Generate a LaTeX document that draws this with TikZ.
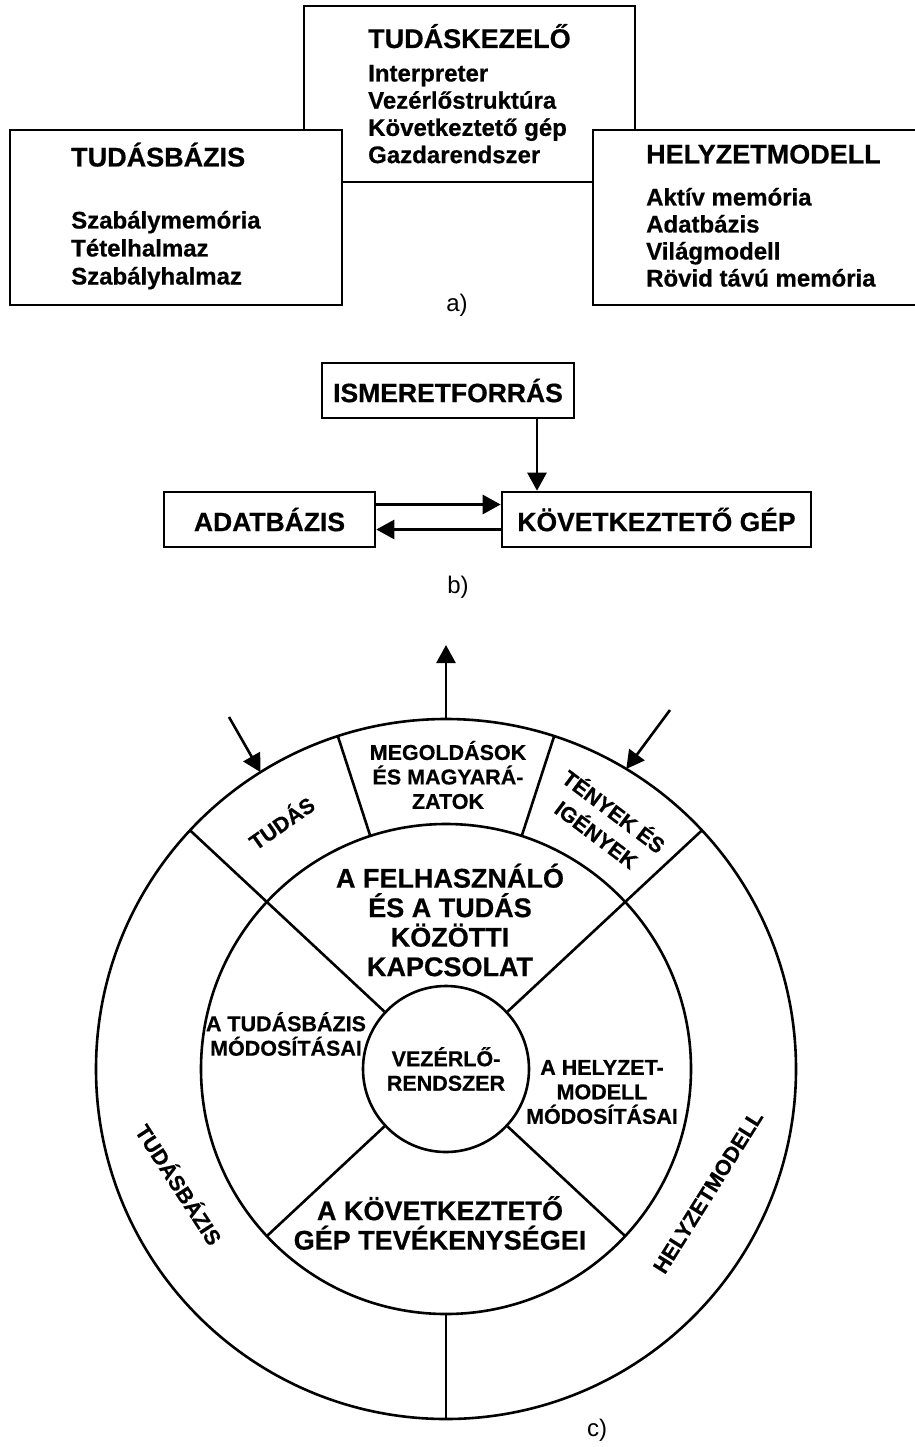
\documentclass[tikz,border=0pt]{standalone}
\usepackage{fontspec}
\setmainfont[BoldFeatures={FakeBold=0.6}]{Liberation Sans}
\usetikzlibrary{arrows.meta,calc}

\tikzset{
  kbox/.style={draw, line width=2.6pt, fill=white},
  ktitle/.style={font=\bfseries\fontsize{27}{30}\selectfont, anchor=base west, inner sep=0pt},
  kitem/.style={font=\bfseries\fontsize{24}{27}\selectfont, anchor=base west, inner sep=0pt},
  bbox/.style={draw, line width=2.6pt, minimum height=55pt, inner sep=0pt, font=\bfseries\fontsize{26.5}{30}\selectfont},
  lbl/.style={font=\fontsize{24}{28}\selectfont, inner sep=0pt},
  arr/.style={line width=2.6pt, -{Triangle[length=18pt,width=19pt]}},
  ringline/.style={line width=2.6pt},
  smtxt/.style={font=\bfseries\fontsize{21.5}{24.5}\selectfont, align=center, inner sep=0pt},
  bgtxt/.style={font=\bfseries\fontsize{27}{29.5}\selectfont, align=center, inner sep=0pt},
}

\begin{document}
\begin{tikzpicture}[x=1pt,y=1pt]
  \useasboundingbox (0,0) rectangle (914,-1447);

  % a) harom doboz
  \draw[kbox] (304,-6) rectangle (635,-182);
  \draw[kbox] (10,-130) rectangle (342,-305);
  \draw[kbox] (593,-130) rectangle (935,-305);
  \node[ktitle] (kez) at (368,-48) {TUDÁSKEZELŐ};
  \foreach \t [count=\i] in {Interpreter, Vezérlőstruktúra, Következtető gép, Gazdarendszer}
    \node[kitem] (kez\i) at (368,-54.3-27.2*\i) {\t};
  \node[ktitle] (tb) at (71,-166.5) {TUDÁSBÁZIS};
  \foreach \t [count=\i] in {Szabálymemória, Tételhalmaz, Szabályhalmaz}
    \node[kitem] (tb\i) at (71,-200.5-28*\i) {\t};
  \node[ktitle] (hm) at (646,-163.5) {HELYZETMODELL};
  \foreach \t [count=\i] in {Aktív memória, Adatbázis, Világmodell, Rövid távú memória}
    \node[kitem] (hm\i) at (646,-178.5-27*\i) {\t};
  \node[lbl] (a) at (457,-305) {a)};

  % b) ismeretforras
  \node[bbox, minimum width=252pt] (isf) at (448,-390.5) {ISMERETFORRÁS};
  \node[bbox, minimum width=211pt] (adat) at (269.5,-519.5) {ADATBÁZIS};
  \node[bbox, minimum width=309pt] (kov) at (656.5,-519.5) {KÖVETKEZTETŐ GÉP};
  \draw[arr] ($(isf.south)+(89,0)$) -- ($(kov.north)+(-119.5,0)$);
  \draw[arr] ([yshift=15pt]adat.east) -- ([yshift=15pt]kov.west);
  \draw[arr] ([yshift=-10pt]kov.west) -- ([yshift=-10pt]adat.east);
  \node[lbl] (b) at (458,-587) {b)};

  % c) kor
  \coordinate (C) at (446,-1069);
  \draw[ringline] (C) circle[radius=350];
  \draw[ringline] (C) circle[radius=245];
  \node[draw, circle, line width=2.6pt, minimum size=166pt, smtxt] (vez) at (C) {VEZÉRLŐ-\\RENDSZER};
  \foreach \a in {43,137}
    \draw[ringline] (vez.\a) -- ($(C)+(\a:350)$);
  \foreach \a in {223,317}
    \draw[ringline] (vez.\a) -- ($(C)+(\a:245)$);
  \foreach \a in {72,108,270}
    \draw[ringline] ($(C)+(\a:245)$) -- ($(C)+(\a:350)$);

  \coordinate (ki) at (446,-645);
  \coordinate (beB) at (229,-717);
  \coordinate (beJ) at (670,-710);
  \draw[arr] ($(C)+(90:350)$) -- (ki);
  \draw[arr] (beB) -- ($(C)+(122:350)$);
  \draw[arr] (beJ) -- ($(C)+(59:350)$);

  \node[smtxt, rotate=35] (tudas) at (281,-822) {TUDÁS};
  \node[smtxt] (megold) at (448,-775) {MEGOLDÁSOK\\ÉS MAGYARÁ-\\ZATOK};
  \node[smtxt, rotate=-37, font=\bfseries\fontsize{21.5}{29}\selectfont] (tenyek) at (606,-822) {TÉNYEK ÉS\\IGÉNYEK};
  \node[bgtxt] (felh) at (450,-920) {A FELHASZNÁLÓ\\ÉS A TUDÁS\\KÖZÖTTI\\KAPCSOLAT};
  \node[smtxt] (tbmod) at (286,-1034) {A TUDÁSBÁZIS\\MÓDOSÍTÁSAI};
  \node[smtxt] (hmmod) at (602,-1092) {A HELYZET-\\MODELL\\MÓDOSÍTÁSAI};
  \node[bgtxt] (tev) at (440,-1223) {A KÖVETKEZTETŐ\\GÉP TEVÉKENYSÉGEI};
  \node[smtxt, rotate=-57] (tbring) at (180,-1184) {TUDÁSBÁZIS};
  \node[smtxt, rotate=58] (hmring) at (708,-1192) {HELYZETMODELL};
  \node[lbl] (c) at (597,-1430) {c)};
\end{tikzpicture}
\end{document}
